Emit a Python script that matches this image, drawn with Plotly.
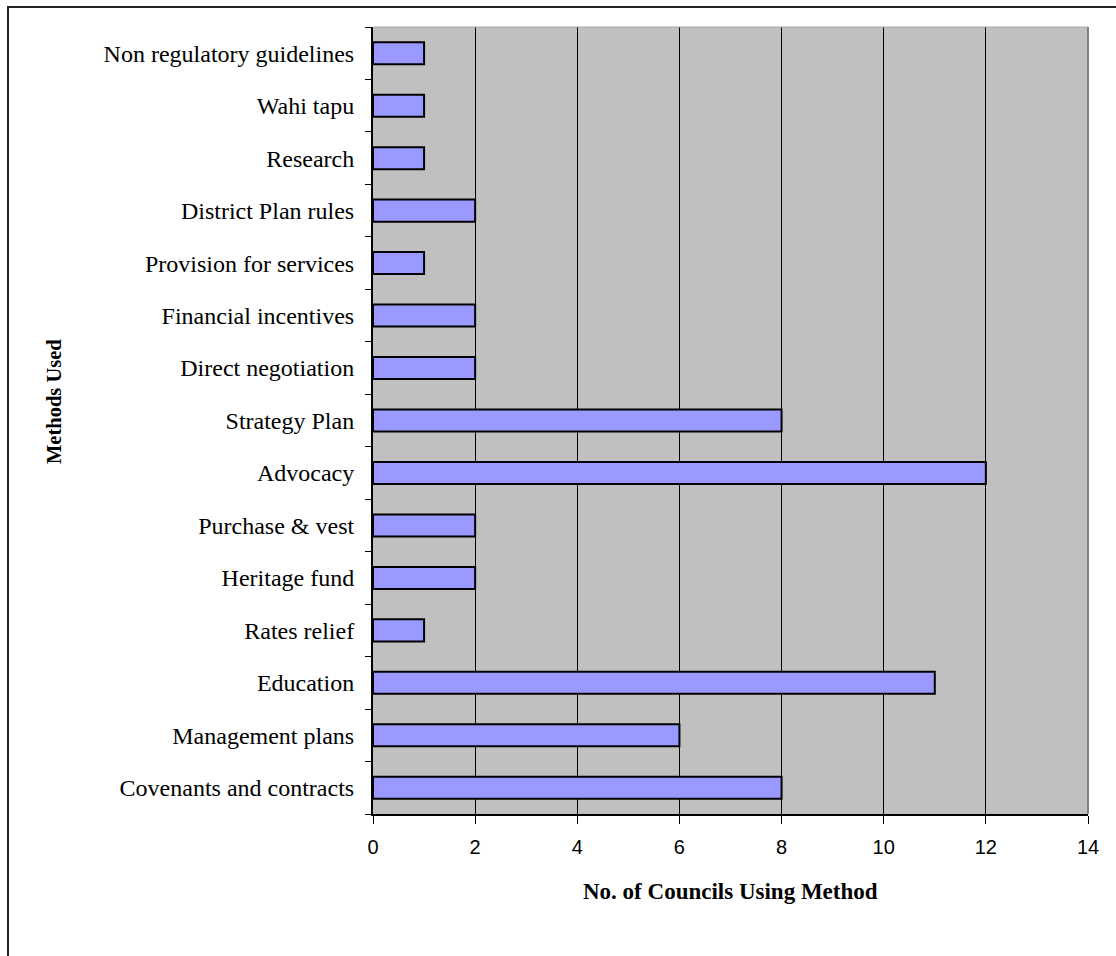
import plotly.graph_objects as go

methods = [
    "Covenants and contracts", "Management plans", "Education", "Rates relief",
    "Heritage fund", "Purchase & vest", "Advocacy", "Strategy Plan",
    "Direct negotiation", "Financial incentives", "Provision for services",
    "District Plan rules", "Research", "Wahi tapu", "Non regulatory guidelines",
]
councils = [8, 6, 11, 1, 2, 2, 12, 8, 2, 2, 1, 2, 1, 1, 1]
x_ticks = [0, 2, 4, 6, 8, 10, 12, 14]

W, H = 1116, 956
L, R, T, B = 373, 28, 27, 142
pw, ph = W - L - R, H - T - B

def px_x(p):
    return (p - L) / pw

def px_y(p):
    return (H - B - p) / ph

fig = go.Figure(go.Bar(
    x=councils, y=methods, orientation="h",
    marker=dict(color="#9999FF", line=dict(color="black", width=2)),
    width=0.42,
))

fig.update_layout(
    width=W, height=H,
    margin=dict(l=L, r=R, t=T, b=B, autoexpand=False),
    paper_bgcolor="white", plot_bgcolor="#C0C0C0",
    showlegend=False,
    xaxis=dict(
        range=[0, 14], tickvals=x_ticks, ticks="outside", ticklen=8,
        tickcolor="black", tickwidth=1,
        showgrid=True, gridcolor="black", gridwidth=1,
        zeroline=False, showline=True, linecolor="black", linewidth=2,
        tickfont=dict(family="Liberation Sans, Arial", size=20, color="black"),
        ticklabelstandoff=6, automargin=False, fixedrange=True,
    ),
    yaxis=dict(
        categoryorder="array", categoryarray=methods,
        range=[-0.5, len(methods) - 0.5],
        ticks="outside", tickson="boundaries", ticklen=6,
        tickcolor="black", tickwidth=1,
        showgrid=False, zeroline=False,
        showline=True, linecolor="black", linewidth=2,
        tickfont=dict(family="Liberation Serif, Times New Roman", size=24, color="black"),
        ticklabelstandoff=12, automargin=False, fixedrange=True,
    ),
    shapes=[
        dict(type="line", xref="paper", yref="paper", x0=1, x1=1, y0=0, y1=1,
             line=dict(color="#808080", width=2)),
        dict(type="line", xref="paper", yref="paper", x0=0, x1=1, y0=1, y1=1,
             line=dict(color="#A8A8A8", width=1)),
        dict(type="rect", xref="paper", yref="paper",
             x0=px_x(8), x1=px_x(1140), y0=px_y(980), y1=px_y(7),
             line=dict(color="#222222", width=2), layer="below"),
    ],
    annotations=[
        dict(text="<b>Methods Used</b>", xref="paper", yref="paper",
             x=px_x(54), y=px_y(402), showarrow=False, textangle=-90,
             xanchor="center", yanchor="middle",
             font=dict(family="Liberation Serif, Times New Roman", size=20.5, color="black")),
        dict(text="<b>No. of Councils Using Method</b>", xref="paper", yref="paper",
             x=px_x(730), y=px_y(891), showarrow=False,
             xanchor="center", yanchor="middle",
             font=dict(family="Liberation Serif, Times New Roman", size=23, color="black")),
    ],
)

fig.write_html("out.html")
